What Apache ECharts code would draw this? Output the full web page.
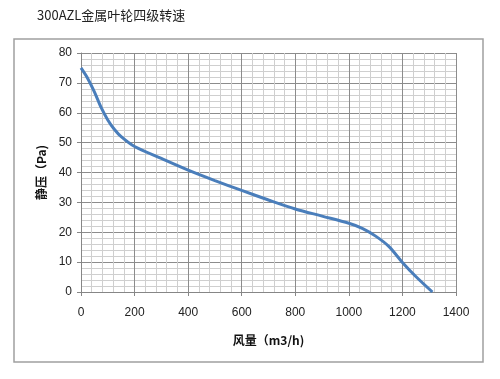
<!DOCTYPE html>
<html><head><meta charset="utf-8">
<script src="https://cdn.jsdelivr.net/npm/echarts@6/dist/echarts.min.js"></script>
<style>html,body{margin:0;padding:0;background:#fff}#c{width:500px;height:379px}</style>
</head><body><div id="c"></div>
<script>
const chartTitle = '300AZL金属叶轮四级转速';
const xAxisName = '风量（m3/h)';
const yAxisName = '静压（Pa)';
const airflow = [0, 25, 50, 75, 100, 125, 150, 200, 300, 400, 500, 600, 700, 800, 900, 1000, 1050, 1100, 1150, 1200, 1250, 1312];
const pressure = [75, 71.5, 67, 61.8, 57.6, 54.4, 52, 48.7, 44.7, 40.8, 37.3, 34, 30.8, 27.8, 25.4, 23, 21.3, 18.7, 15.2, 9.9, 5.2, 0];

const chart = echarts.init(document.getElementById('c'));
const font = '"Liberation Sans", "Noto Sans CJK SC", sans-serif';
chart.setOption({
  animation: false,
  backgroundColor: '#fff',
  graphic: [
    {type:'rect', shape:{x:14, y:39, width:469, height:323}, style:{fill:'none', stroke:'#a0a0a0', lineWidth:1.5}},
    {type:'text', left:37, top:9, style:{text:chartTitle, font:'13px "Noto Sans CJK SC", sans-serif', fill:'#222'}}
  ],
  grid: {left:81, right:44, top:53, bottom:87},
  xAxis: {
    type:'value', min:0, max:1400, interval:200,
    name:xAxisName, nameLocation:'middle', nameGap:42,
    nameTextStyle:{fontFamily:'"Noto Sans CJK SC", sans-serif', fontWeight:'bold', fontSize:12, color:'#111'},
    axisLine:{show:true, lineStyle:{color:'#868686'}},
    axisTick:{show:true, length:4, lineStyle:{color:'#868686'}},
    axisLabel:{fontFamily:font, fontSize:12, color:'#222', margin:15, formatter:v=>String(v)},
    splitLine:{show:true, lineStyle:{color:'#8c8c8c', width:1}},
    minorTick:{show:false, splitNumber:5},
    minorSplitLine:{show:true, lineStyle:{color:'#cfcfcf', width:1}}
  },
  yAxis: {
    type:'value', min:0, max:80, interval:10,
    name:yAxisName, nameLocation:'middle', nameGap:32, nameRotate:90,
    nameTextStyle:{fontFamily:'"Noto Sans CJK SC", sans-serif', fontWeight:'bold', fontSize:12, color:'#111'},
    axisLine:{show:true, lineStyle:{color:'#868686'}},
    axisTick:{show:true, length:4, lineStyle:{color:'#868686'}},
    axisLabel:{fontFamily:font, fontSize:12, color:'#222', margin:9},
    splitLine:{show:true, lineStyle:{color:'#8c8c8c', width:1}},
    minorTick:{show:false, splitNumber:5},
    minorSplitLine:{show:true, lineStyle:{color:'#cfcfcf', width:1}}
  },
  series: [{
    type:'line', smooth:0.3, symbol:'none',
    data: airflow.map((x,i)=>[x, pressure[i]]),
    lineStyle:{color:'#4a7ebb', width:3}
  }]
});
</script></body></html>
